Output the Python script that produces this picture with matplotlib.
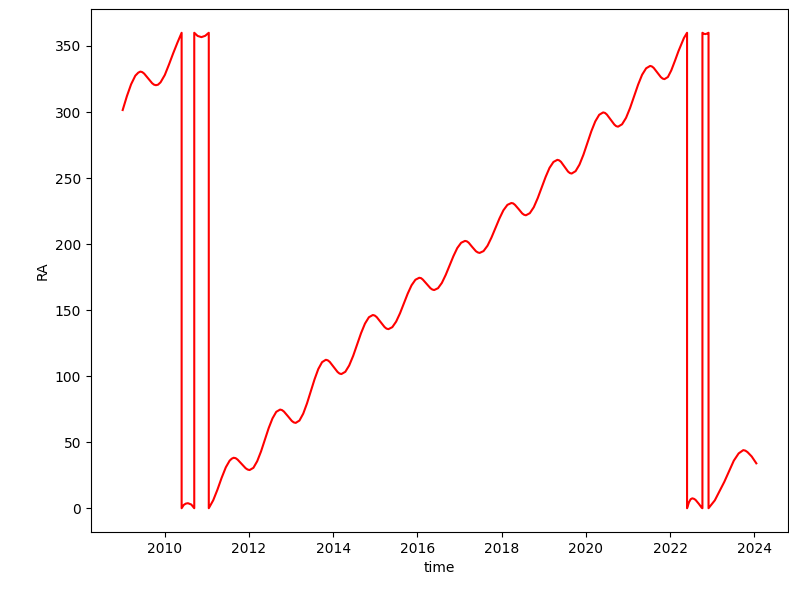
import matplotlib
matplotlib.use("Agg")
import matplotlib.pyplot as plt

# Right ascension (degrees) against time (decimal year); wraps at 360 -> 0
time = [
    2009.00, 2009.10, 2009.20, 2009.30, 2009.37, 2009.42,
    2009.465, 2009.51, 2009.605, 2009.70, 2009.745, 2009.79,
    2009.84, 2009.90, 2010.00, 2010.10, 2010.20, 2010.30, 2010.40,
    2010.40, 2010.45, 2010.50, 2010.55, 2010.63, 2010.70,
    2010.70, 2010.78, 2010.87, 2010.96, 2011.045,
    2011.045, 2011.15, 2011.25, 2011.35, 2011.45, 2011.54, 2011.59, 2011.636,
    2011.683, 2011.73, 2011.825, 2011.92, 2011.967, 2012.014,
    2012.105, 2012.195, 2012.286, 2012.377, 2012.467, 2012.558, 2012.648, 2012.739,
    2012.785, 2012.83, 2012.924, 2013.017, 2013.063, 2013.109,
    2013.199, 2013.288, 2013.378, 2013.467, 2013.557, 2013.646, 2013.736, 2013.825,
    2013.871, 2013.918, 2014.01, 2014.103, 2014.149, 2014.195,
    2014.288, 2014.38, 2014.475, 2014.568, 2014.661, 2014.755, 2014.848, 2014.941,
    2014.987, 2015.034, 2015.127, 2015.22, 2015.266, 2015.312,
    2015.404, 2015.495, 2015.587, 2015.678, 2015.77, 2015.861, 2015.953, 2016.044,
    2016.088, 2016.13, 2016.22, 2016.31, 2016.354, 2016.398,
    2016.49, 2016.581, 2016.673, 2016.764, 2016.856, 2016.947, 2017.039, 2017.130,
    2017.173, 2017.217, 2017.30, 2017.39, 2017.434, 2017.477,
    2017.571, 2017.666, 2017.76, 2017.855, 2017.949, 2018.043, 2018.138, 2018.232,
    2018.275, 2018.318, 2018.405, 2018.49, 2018.534, 2018.577,
    2018.67, 2018.764, 2018.858, 2018.951, 2019.045, 2019.138, 2019.232, 2019.325,
    2019.367, 2019.41, 2019.494, 2019.578, 2019.621, 2019.663,
    2019.757, 2019.85, 2019.944, 2020.037, 2020.131, 2020.225, 2020.318, 2020.412,
    2020.456, 2020.50, 2020.589, 2020.678, 2020.722, 2020.766,
    2020.861, 2020.956, 2021.052, 2021.147, 2021.242, 2021.337, 2021.433, 2021.528,
    2021.57, 2021.613, 2021.698, 2021.783, 2021.826, 2021.868,
    2021.95, 2022.03, 2022.12, 2022.20, 2022.27, 2022.33, 2022.405,
    2022.405, 2022.45, 2022.49, 2022.53, 2022.57,
    2022.607, 2022.685, 2022.75, 2022.77,
    2022.77, 2022.80, 2022.84, 2022.88, 2022.915,
    2022.915, 2023.065, 2023.29, 2023.515, 2023.63, 2023.74,
    2023.79, 2023.84, 2023.94, 2024.05,
]

ra = [
    301.5, 312.0, 321.0, 327.5, 329.8, 330.6,
    330.2, 329.1, 325.5, 321.8, 320.7, 320.3,
    320.7, 322.5, 328.0, 336.0, 344.5, 352.5, 360.0,
    0.0, 2.5, 3.5, 3.8, 2.8, 0.0,
    360.0, 357.6, 356.7, 357.7, 360.0,
    0.0, 6.0, 14.0, 23.0, 31.0, 36.0, 37.5, 38.2,
    37.9, 36.8, 33.6, 30.3, 29.3, 28.9,
    30.6, 35.6, 43.0, 51.8, 60.6, 68.0, 73.0, 74.7,
    74.3, 73.2, 69.7, 66.1, 65.0, 64.6,
    66.4, 71.6, 79.4, 88.5, 97.6, 105.4, 110.6, 112.4,
    112.0, 110.8, 107.0, 103.2, 102.0, 101.6,
    103.3, 108.1, 115.4, 124.0, 132.5, 139.8, 144.6, 146.3,
    145.9, 144.7, 141.0, 137.2, 136.0, 135.6,
    137.1, 141.3, 147.6, 155.0, 162.5, 168.8, 173.0, 174.5,
    174.2, 173.1, 169.9, 166.6, 165.6, 165.2,
    166.6, 170.6, 176.7, 183.8, 190.9, 197.0, 201.0, 202.4,
    202.1, 201.1, 197.9, 194.6, 193.7, 193.3,
    194.7, 198.8, 205.0, 212.2, 219.4, 225.6, 229.7, 231.1,
    230.8, 229.7, 226.5, 223.2, 222.2, 221.8,
    223.4, 227.9, 234.8, 242.8, 250.8, 257.7, 262.2, 263.8,
    263.4, 262.3, 258.6, 254.9, 253.8, 253.4,
    255.2, 260.2, 267.7, 276.6, 285.4, 292.9, 297.9, 299.7,
    299.3, 298.1, 294.3, 290.5, 289.3, 288.9,
    290.7, 295.6, 303.1, 311.9, 320.7, 328.2, 333.1, 334.9,
    334.5, 333.4, 329.9, 326.4, 325.3, 324.9,
    326.5, 331.5, 339.0, 346.0, 351.5, 356.0, 360.0,
    0.0, 4.5, 6.8, 7.5, 7.1,
    6.3, 3.3, 0.5, 0.0,
    360.0, 359.3, 359.0, 359.4, 360.0,
    0.0, 6.0, 20.0, 36.0, 41.5, 44.0,
    43.6, 42.5, 39.2, 34.0,
]

fig = plt.figure(figsize=(7.89, 5.90), dpi=100)
ax = fig.add_axes([91 / 789, 58 / 590, 697 / 789, 523 / 590])
ax.plot(time, ra, color="red")
ax.set_xlabel("time")
ax.set_ylabel("RA")
fig.savefig("out.png", dpi=100)
